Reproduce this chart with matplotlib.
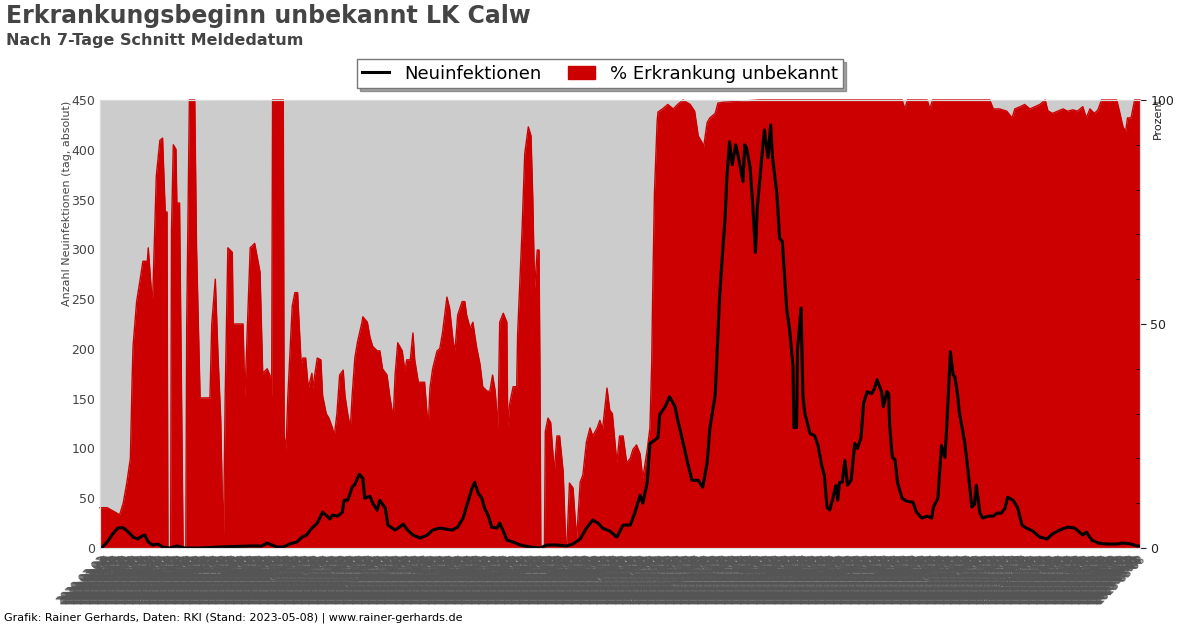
import numpy as np
import pandas as pd
import matplotlib.pyplot as plt

# Tage seit 2020-03-01
start = pd.Timestamp('2020-03-01')
ende = pd.Timestamp('2023-05-08')

rot_tage = [0, 3, 8, 17, 22, 26, 30, 34, 36, 37, 41, 45, 48, 53, 54, 58, 59, 63, 67, 70, 73, 75, 76, 79,
            80, 82, 85, 86, 89, 93, 96, 97, 100, 106, 108, 112, 123, 125, 129, 132, 135, 138, 140, 143,
            148, 149, 160, 162, 168, 173, 179, 182, 187, 190, 192, 193, 205, 206, 208, 210, 215, 218,
            221, 225, 227, 230, 233, 237, 238, 243, 247, 249, 253, 256, 260, 262, 265, 268, 272, 274,
            277, 280, 282, 285, 288, 293, 294, 299, 302, 305, 310, 313, 316, 321, 324, 328, 330, 333,
            338, 341, 343, 347, 350, 352, 356, 363, 367, 369, 372, 377, 380, 383, 388, 391, 395, 397,
            400, 405, 408, 410, 414, 417, 421, 425, 428, 433, 436, 439, 442, 445, 447, 451, 455, 456,
            458, 462, 466, 467, 472, 475, 479, 482, 484, 486, 489, 491, 492, 493, 497, 498, 501, 504,
            508, 511, 514, 518, 521, 522, 525, 529, 533, 537, 540, 544, 548, 551, 556, 559, 562, 567,
            570, 573, 578, 581, 585, 589, 593, 596, 600, 604, 607, 612, 615, 617, 618, 620, 623, 624,
            629, 635, 641, 646, 652, 660, 665, 669, 673, 675, 679, 682, 688, 691, 697, 738, 783, 839,
            897, 900, 903, 925, 928, 931, 995, 999, 1006, 1014, 1020, 1023, 1029, 1034, 1040, 1051,
            1057, 1060, 1065, 1071, 1077, 1082, 1088, 1093, 1099, 1103, 1107, 1112, 1116, 1120, 1137,
            1140, 1144, 1147, 1149, 1153, 1157, 1163]
prozent_unbekannt = [9, 9, 9, 8, 7.4, 10, 14.5, 20, 38, 45, 55, 60, 64, 64, 67, 56, 56, 83, 91, 91.5, 75,
                     75, 0, 0, 71, 90, 89, 77, 77, 0, 0, 50, 100, 100, 67, 33.5, 33.5, 50, 60, 43, 29, 0,
                     33.5, 67, 66, 50, 50, 33.5, 67, 68, 61.6, 39, 40, 38.6, 34, 100, 100, 25, 22, 33.5,
                     54, 57, 57, 41, 42.4, 42.4, 35.7, 39, 35.7, 42.4, 42, 34, 30, 29, 26.8, 25, 30,
                     38.6, 39.7, 34, 30, 26.8, 34, 42.4, 46, 50.4, 51.6, 50.4, 47, 45, 44, 44, 40, 38.6,
                     34, 29, 38.6, 45.8, 44, 39.5, 42, 42, 48, 42, 37, 37, 26.8, 35.7, 40, 44, 44.5, 48,
                     56, 53.5, 46, 44, 52, 55, 55, 52, 49, 50.4, 45, 41, 36, 35, 35, 38.6, 35, 26.8,
                     50.4, 52.4, 50.4, 27, 32, 36, 36, 47.5, 71, 88, 94, 92, 78, 58, 66.5, 66.5, 40, 0,
                     0, 26, 29, 28, 17, 25, 25, 17, 0, 0, 14.5, 13.4, 2, 14.7, 16.3, 23.7, 26.8, 25,
                     26.8, 28.5, 26.5, 35.7, 30.8, 30, 19, 25, 25, 19, 20, 22, 23, 21, 15.6, 22, 26.8,
                     41.5, 56, 79, 95, 97.3, 98, 99, 98, 99, 100, 99, 97.5, 92, 90.6, 89.5, 95, 96, 97,
                     99.3, 99.5, 100, 100, 100, 100, 98, 100, 100, 98, 100, 100, 98, 98, 97.5, 96, 98,
                     98.5, 99, 98, 99, 100, 97.6, 97, 97.5, 98, 97.5, 97.8, 97.5, 98.5, 96, 98, 97, 97.8,
                     100, 100, 97.5, 94, 93, 96, 96, 100, 100]

neu_tage = [2, 8, 15, 20, 25, 28, 34, 37, 42, 47, 50, 54, 59, 65, 70, 78, 86, 95, 112, 134, 168, 181,
            187, 192, 198, 205, 212, 220, 226, 231, 237, 243, 249, 254, 257, 260, 266, 271, 273, 277,
            282, 285, 290, 294, 296, 302, 305, 310, 313, 319, 322, 330, 335, 339, 344, 350, 358, 366,
            372, 380, 394, 400, 406, 411, 416, 419, 423, 427, 430, 434, 438, 444, 447, 451, 455, 462,
            470, 481, 492, 500, 511, 522, 529, 537, 544, 551, 557, 562, 570, 578, 585, 593, 598, 604,
            607, 612, 615, 620, 624, 626, 632, 637, 643, 646, 652, 657, 662, 669, 674, 679, 682, 688,
            690, 693, 696, 699, 701, 704, 707, 711, 715, 719, 721, 723, 727, 730, 733, 735, 740, 743,
            747, 750, 752, 757, 760, 763, 768, 771, 775, 776, 779, 780, 784, 786, 788, 794, 799, 803,
            807, 810, 813, 816, 819, 823, 825, 827, 830, 833, 836, 840, 844, 847, 851, 854, 858, 863,
            866, 869, 874, 876, 880, 882, 883, 886, 889, 892, 897, 902, 909, 913, 919, 925, 930, 932,
            937, 941, 945, 948, 951, 954, 956, 959, 961, 967, 970, 975, 978, 980, 984, 987, 993, 999,
            1003, 1008, 1012, 1015, 1021, 1026, 1031, 1036, 1043, 1051, 1059, 1065, 1073, 1082, 1090,
            1099, 1103, 1109, 1116, 1126, 1137, 1144, 1153, 1160, 1163]
neuinfektionen = [0, 6, 15, 20, 20.6, 19, 14, 11, 9, 12, 13, 6, 3, 4, 1, 0, 2, 0, 0, 1, 2, 2, 5, 3, 1, 1,
                  4, 6, 11, 13, 20, 25, 36, 32, 29, 33, 32, 36, 48, 48, 61, 64, 74, 70, 50, 52, 45, 38,
                  48, 40, 23, 18, 21, 24, 18, 13, 10, 13, 18, 20, 18, 21, 30, 45, 60, 66, 55, 50, 40,
                  33, 21, 20, 25, 17, 8, 6, 3, 1, 0, 3, 3, 2, 4, 9, 20, 28, 25, 20, 17, 11, 23, 23, 35,
                  53, 45, 66, 105, 108, 111, 134, 142, 152, 142, 129, 106, 86, 68, 68, 61, 86, 120, 154,
                  194, 254, 294, 331, 372, 408, 385, 405, 388, 368, 405, 402, 382, 344, 297, 341, 392,
                  420, 392, 425, 393, 355, 311, 308, 239, 221, 182, 121, 121, 199, 241, 154, 136, 115,
                  113, 103, 83, 73, 41, 38, 48, 63, 48, 66, 66, 88, 63, 68, 105, 100, 111, 146, 157,
                  155, 160, 169, 157, 142, 157, 155, 124, 91, 89, 65, 50, 47, 46, 36, 30, 32, 30, 41,
                  50, 103, 91, 142, 197, 174, 172, 154, 136, 106, 83, 41, 44, 63, 35, 30, 32, 32, 35,
                  35, 40, 51, 48, 41, 23, 20, 17, 11, 9, 14, 18, 21, 20, 13, 16, 8, 5, 4, 4, 5, 4, 2, 2]

rot_datum = start + pd.to_timedelta(rot_tage, unit='D')
neu_datum = start + pd.to_timedelta(neu_tage, unit='D')
alle_tage = pd.date_range(start, ende, freq='D')

fig = plt.figure(figsize=(12, 6.28), dpi=100)
ax = fig.add_axes([0.0833, 0.1274, 0.8667, 0.7134])
ax2 = ax.twinx()

# rot hinten, schwarz vorne
ax.set_zorder(2)
ax.patch.set_visible(False)
ax2.set_zorder(1)
ax2.patch.set_visible(True)
ax2.set_facecolor('#cccccc')

ax2.fill_between(rot_datum, 0, prozent_unbekannt, color='#cc0000', lw=0)
ax2.plot(rot_datum, prozent_unbekannt, color='#cc0000', lw=1, clip_on=False)
ax2.set_ylim(0, 100)
ax2.set_yticks([0, 50, 100])
ax2.set_yticks(np.arange(0, 101, 10), minor=True)
ax2.tick_params(axis='y', which='major', length=4, labelsize=9, colors='#222222')
ax2.tick_params(axis='y', which='minor', direction='in', length=3)
ax2.set_ylabel('Prozent', fontsize=8, color='#222222')
ax2.yaxis.set_label_coords(1.012, 0.96)

ax.plot(neu_datum, neuinfektionen, color='black', lw=2.2, label='Neuinfektionen')
ax.fill_between([], [], color='#cc0000', label='% Erkrankung unbekannt')
ax.set_ylim(0, 450)
ax.set_yticks(np.arange(0, 451, 50))
ax.tick_params(axis='y', length=0, labelsize=9, colors='#444444')
ax.set_ylabel('Anzahl Neuinfektionen (tag, absolut)', fontsize=8, color='#444444')
ax.yaxis.set_label_coords(-0.027, 0.77)

ax.set_xlim(start, ende)
ax.set_xticks(alle_tage)
ax.set_xticklabels([d.strftime('%Y-%m-%d') for d in alle_tage], rotation=45, ha='right',
                   rotation_mode='anchor', fontsize=8, color='#555555')
ax.tick_params(axis='x', length=0, pad=4)

for a in (ax, ax2):
    for s in a.spines.values():
        s.set_color('#dddddd')

handles, labels = ax.get_legend_handles_labels()
leg = fig.legend(handles, labels, loc='upper center', bbox_to_anchor=(0.5, 0.92), ncol=2,
                 fontsize=13, frameon=True, shadow=True, fancybox=False, edgecolor='#777777',
                 borderpad=0.3, columnspacing=1.5, handlelength=1.5)

fig.text(0.005, 0.993, 'Erkrankungsbeginn unbekannt LK Calw', fontsize=17, fontweight='bold',
         color='#444444', va='top')
fig.text(0.005, 0.947, 'Nach 7-Tage Schnitt Meldedatum', fontsize=11.5, fontweight='bold',
         color='#444444', va='top')
fig.text(0.003, 0.012, 'Grafik: Rainer Gerhards, Daten: RKI (Stand: 2023-05-08) | www.rainer-gerhards.de',
         fontsize=8, color='black')

fig.savefig('out.png', dpi=100)
